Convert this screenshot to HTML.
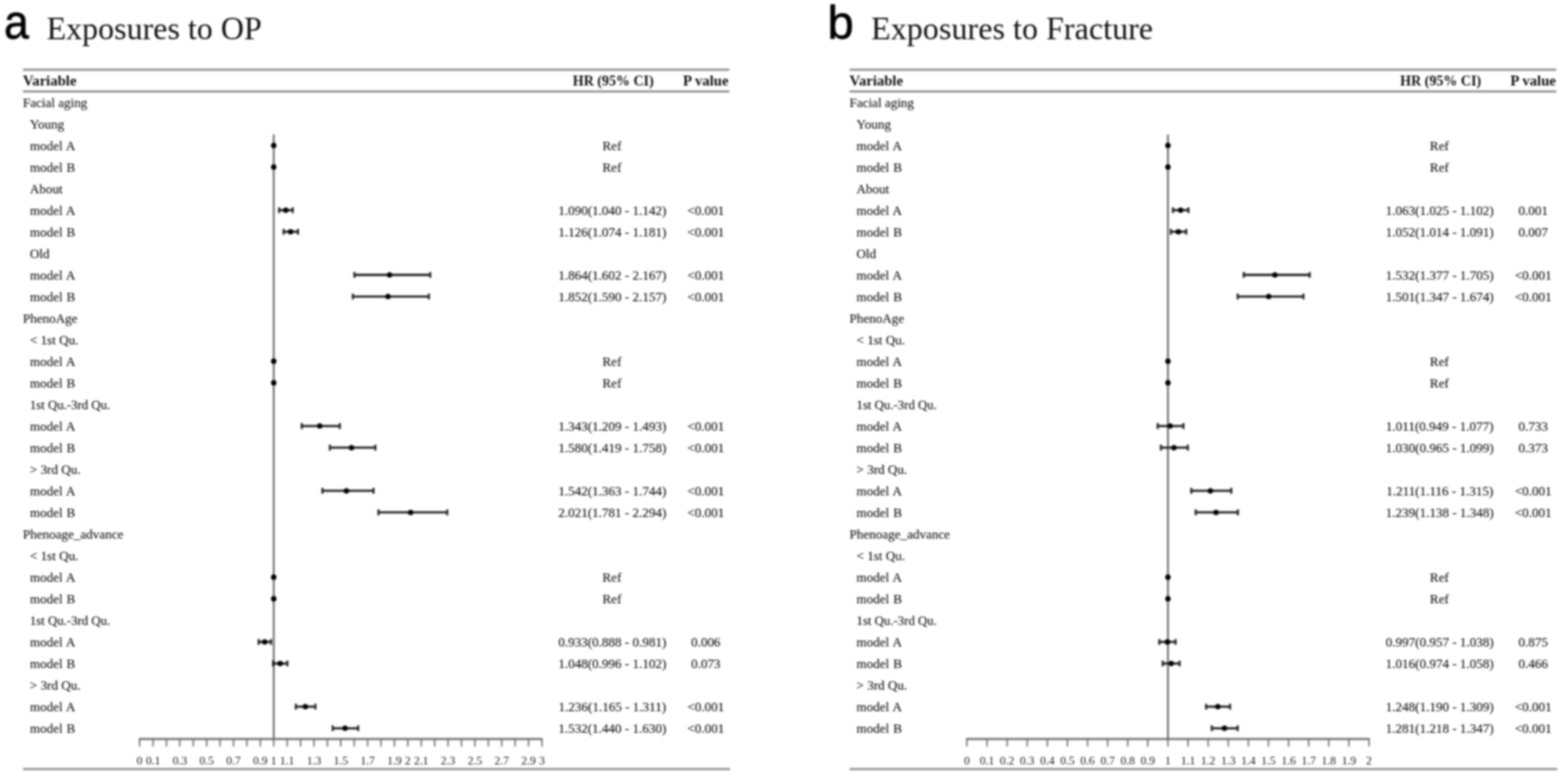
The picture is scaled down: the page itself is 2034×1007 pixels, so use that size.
<!DOCTYPE html>
<html lang="en"><head><meta charset="utf-8"><title>Forest plots: exposures to OP and fracture</title>
<style>
html,body{margin:0;padding:0;background:#fff;}
body{width:2034px;height:1007px;overflow:hidden;}
svg{display:block;}
.body{filter:url(#fb);}
.rules{filter:url(#fr);}
.txt{filter:url(#ft);}
.cis{filter:url(#fc);}
.cap{stroke:#1c1c1c;stroke-width:2.6;fill:none;}
.head{filter:url(#fh);}
text{font-family:"Liberation Serif",serif;fill:#111;stroke:#111;stroke-width:0.12;}
.b{font-size:16.3px;}
.h{font-size:19.1px;font-weight:bold;stroke:none;}
.t{font-size:15px;text-anchor:middle;stroke:none;fill:#161616;}
.m{text-anchor:middle;}
.ttl{font-size:41.5px;stroke:none;}
.let{font-family:"Liberation Sans",sans-serif;fill:#000;stroke:#000;stroke-width:0.8;}
.rule{stroke:#858585;stroke-width:2.5;fill:none;}
.ax{stroke:#666;stroke-width:2.3;fill:none;}
.tk{stroke:#6a6a6a;stroke-width:1.8;fill:none;}
.ref{stroke:#606060;stroke-width:2.2;fill:none;}
.ci{stroke:#1c1c1c;stroke-width:2.8;fill:none;}
.dot{fill:#000;}
</style></head><body>
<svg width="2034" height="1007" viewBox="0 0 2034 1007">
<defs>
<filter id="fr" filterUnits="userSpaceOnUse" x="0" y="0" width="2034" height="1007" color-interpolation-filters="sRGB">
<feGaussianBlur in="SourceGraphic" stdDeviation="1" result="a"/>
<feGaussianBlur in="SourceGraphic" stdDeviation="1.5" result="b"/>
<feComposite in="a" in2="b" operator="arithmetic" k1="0" k2="0.5" k3="0.5" k4="0"/>
</filter>
<filter id="fb" filterUnits="userSpaceOnUse" x="0" y="0" width="2034" height="1007" color-interpolation-filters="sRGB">
<feGaussianBlur in="SourceGraphic" stdDeviation="1" result="a"/>
<feGaussianBlur in="SourceGraphic" stdDeviation="1.5" result="b"/>
<feComposite in="a" in2="b" operator="arithmetic" k1="0" k2="0.5" k3="0.5" k4="0"/>
</filter>
<filter id="ft" filterUnits="userSpaceOnUse" x="0" y="0" width="2034" height="1007" color-interpolation-filters="sRGB">
<feGaussianBlur in="SourceGraphic" stdDeviation="1" result="a"/>
<feGaussianBlur in="SourceGraphic" stdDeviation="1.5" result="b"/>
<feComposite in="a" in2="b" operator="arithmetic" k1="0" k2="0.7" k3="0.3" k4="0"/>
</filter>
<filter id="fc" filterUnits="userSpaceOnUse" x="0" y="0" width="2034" height="1007" color-interpolation-filters="sRGB">
<feGaussianBlur in="SourceGraphic" stdDeviation="1" result="a"/>
<feGaussianBlur in="SourceGraphic" stdDeviation="1.5" result="b"/>
<feComposite in="a" in2="b" operator="arithmetic" k1="0" k2="0.5" k3="0.5" k4="0"/>
</filter>
<filter id="fh" filterUnits="userSpaceOnUse" x="0" y="0" width="2034" height="1007" color-interpolation-filters="sRGB">
<feGaussianBlur in="SourceGraphic" stdDeviation="1" result="a"/>
<feGaussianBlur in="SourceGraphic" stdDeviation="1.5" result="b"/>
<feComposite in="a" in2="b" operator="arithmetic" k1="0" k2="0.6" k3="0.4" k4="0"/>
</filter>
</defs>
<rect width="2034" height="1007" fill="#fff"/>
<g class="head">
<text class="let" transform="translate(5.3 50) scale(0.92 1)" font-size="62.8">a</text>
<text class="ttl" x="60.5" y="50.9">Exposures to OP</text>
</g>
<g class="rules">
<line class="rule" x1="29.8" x2="946" y1="90.5" y2="90.5"/>
<line class="rule" x1="29.8" x2="946" y1="118.7" y2="118.7"/>
<line class="rule" x1="29.8" x2="947.2" y1="997.9" y2="997.9"/>
</g>
<g class="body">
<line class="ref" x1="355.07" x2="355.07" y1="174.4" y2="959"/>
<path class="ax" d="M180.1 959 H704"/>
<path class="tk" d="M181.1 959 v9.7 M198.5 959 v9.7 M215.89 959 v9.7 M233.29 959 v9.7 M250.69 959 v9.7 M268.08 959 v9.7 M285.48 959 v9.7 M302.88 959 v9.7 M320.27 959 v9.7 M337.67 959 v9.7 M355.07 959 v9.7 M372.46 959 v9.7 M389.86 959 v9.7 M407.26 959 v9.7 M424.65 959 v9.7 M442.05 959 v9.7 M459.45 959 v9.7 M476.84 959 v9.7 M494.24 959 v9.7 M511.64 959 v9.7 M529.03 959 v9.7 M546.43 959 v9.7 M563.83 959 v9.7 M581.22 959 v9.7 M598.62 959 v9.7 M616.02 959 v9.7 M633.41 959 v9.7 M650.81 959 v9.7 M668.21 959 v9.7 M685.6 959 v9.7 M703 959 v9.7"/>
</g>
<g class="cis">
<circle class="dot" cx="355.07" cy="188.7" r="3.5"/>
<circle class="dot" cx="355.07" cy="216.71" r="3.5"/>
<path class="ci" d="M362.03 272.74 H379.77"/>
<path class="cap" d="M362.03 268.94 v7.6 M379.77 268.94 v7.6"/>
<circle class="dot" cx="370.72" cy="272.74" r="3.5"/>
<path class="ci" d="M367.94 300.75 H386.55"/>
<path class="cap" d="M367.94 296.95 v7.6 M386.55 296.95 v7.6"/>
<circle class="dot" cx="376.99" cy="300.75" r="3.5"/>
<path class="ci" d="M459.79 356.77 H558.09"/>
<path class="cap" d="M459.79 352.97 v7.6 M558.09 352.97 v7.6"/>
<circle class="dot" cx="505.37" cy="356.77" r="3.5"/>
<path class="ci" d="M457.71 384.79 H556.35"/>
<path class="cap" d="M457.71 380.99 v7.6 M556.35 380.99 v7.6"/>
<circle class="dot" cx="503.29" cy="384.79" r="3.5"/>
<circle class="dot" cx="355.07" cy="468.83" r="3.5"/>
<circle class="dot" cx="355.07" cy="496.84" r="3.5"/>
<path class="ci" d="M391.43 552.87 H440.83"/>
<path class="cap" d="M391.43 549.07 v7.6 M440.83 549.07 v7.6"/>
<circle class="dot" cx="414.74" cy="552.87" r="3.5"/>
<path class="ci" d="M427.96 580.88 H486.93"/>
<path class="cap" d="M427.96 577.08 v7.6 M486.93 577.08 v7.6"/>
<circle class="dot" cx="455.97" cy="580.88" r="3.5"/>
<path class="ci" d="M418.22 636.9 H484.5"/>
<path class="cap" d="M418.22 633.1 v7.6 M484.5 633.1 v7.6"/>
<circle class="dot" cx="449.36" cy="636.9" r="3.5"/>
<path class="ci" d="M490.93 664.92 H580.18"/>
<path class="cap" d="M490.93 661.12 v7.6 M580.18 661.12 v7.6"/>
<circle class="dot" cx="532.69" cy="664.92" r="3.5"/>
<circle class="dot" cx="355.07" cy="748.96" r="3.5"/>
<circle class="dot" cx="355.07" cy="776.97" r="3.5"/>
<path class="ci" d="M335.58 833 H351.76"/>
<path class="cap" d="M335.58 829.2 v7.6 M351.76 829.2 v7.6"/>
<circle class="dot" cx="343.41" cy="833" r="3.5"/>
<path class="ci" d="M354.37 861.01 H372.81"/>
<path class="cap" d="M354.37 857.21 v7.6 M372.81 857.21 v7.6"/>
<circle class="dot" cx="363.42" cy="861.01" r="3.5"/>
<path class="ci" d="M383.77 917.03 H409.17"/>
<path class="cap" d="M383.77 913.23 v7.6 M409.17 913.23 v7.6"/>
<circle class="dot" cx="396.12" cy="917.03" r="3.5"/>
<path class="ci" d="M431.61 945.05 H464.67"/>
<path class="cap" d="M431.61 941.25 v7.6 M464.67 941.25 v7.6"/>
<circle class="dot" cx="447.62" cy="945.05" r="3.5"/>
</g>
<g class="txt">
<text class="h" x="29.8" y="110.95">Variable</text>
<text class="h m" x="795.5" y="110.95" textLength="105" lengthAdjust="spacingAndGlyphs">HR (95% CI)</text>
<text class="h m" x="915.5" y="110.95">P value</text>
<text class="t" x="181.1" y="991.7">0</text>
<text class="t" x="198.5" y="991.7">0.1</text>
<text class="t" x="233.29" y="991.7">0.3</text>
<text class="t" x="268.08" y="991.7">0.5</text>
<text class="t" x="302.88" y="991.7">0.7</text>
<text class="t" x="337.67" y="991.7">0.9</text>
<text class="t" x="355.07" y="991.7">1</text>
<text class="t" x="372.46" y="991.7">1.1</text>
<text class="t" x="407.26" y="991.7">1.3</text>
<text class="t" x="442.05" y="991.7">1.5</text>
<text class="t" x="476.84" y="991.7">1.7</text>
<text class="t" x="511.64" y="991.7">1.9</text>
<text class="t" x="529.03" y="991.7">2</text>
<text class="t" x="546.43" y="991.7">2.1</text>
<text class="t" x="581.22" y="991.7">2.3</text>
<text class="t" x="616.02" y="991.7">2.5</text>
<text class="t" x="650.81" y="991.7">2.7</text>
<text class="t" x="685.6" y="991.7">2.9</text>
<text class="t" x="703" y="991.7">3</text>
<text class="b" transform="translate(29.8 138.52) scale(1.043 1)">Facial aging</text>
<text class="b" transform="translate(38.8 166.53) scale(1.043 1)">Young</text>
<text class="b" word-spacing="0.8" transform="translate(38.8 194.55) scale(1.043 1)">model A</text>
<text class="b m" transform="translate(793.8 194.85) scale(1.043 1)">Ref</text>
<text class="b" word-spacing="0.8" transform="translate(38.8 222.56) scale(1.043 1)">model B</text>
<text class="b m" transform="translate(793.8 222.86) scale(1.043 1)">Ref</text>
<text class="b" transform="translate(38.8 250.57) scale(1.043 1)">About</text>
<text class="b" word-spacing="0.8" transform="translate(38.8 278.59) scale(1.043 1)">model A</text>
<text class="b m" transform="translate(794.3 278.59) scale(1.043 1)">1.090(1.040 - 1.142)</text>
<text class="b m" transform="translate(915.5 278.59) scale(1.043 1)">&lt;0.001</text>
<text class="b" word-spacing="0.8" transform="translate(38.8 306.6) scale(1.043 1)">model B</text>
<text class="b m" transform="translate(794.3 306.6) scale(1.043 1)">1.126(1.074 - 1.181)</text>
<text class="b m" transform="translate(915.5 306.6) scale(1.043 1)">&lt;0.001</text>
<text class="b" transform="translate(38.8 334.61) scale(1.043 1)">Old</text>
<text class="b" word-spacing="0.8" transform="translate(38.8 362.62) scale(1.043 1)">model A</text>
<text class="b m" transform="translate(794.3 362.62) scale(1.043 1)">1.864(1.602 - 2.167)</text>
<text class="b m" transform="translate(915.5 362.62) scale(1.043 1)">&lt;0.001</text>
<text class="b" word-spacing="0.8" transform="translate(38.8 390.64) scale(1.043 1)">model B</text>
<text class="b m" transform="translate(794.3 390.64) scale(1.043 1)">1.852(1.590 - 2.157)</text>
<text class="b m" transform="translate(915.5 390.64) scale(1.043 1)">&lt;0.001</text>
<text class="b" transform="translate(29.8 418.65) scale(1.043 1)">PhenoAge</text>
<text class="b" transform="translate(38.8 446.66) scale(1.043 1)">&lt; 1st Qu.</text>
<text class="b" word-spacing="0.8" transform="translate(38.8 474.68) scale(1.043 1)">model A</text>
<text class="b m" transform="translate(793.8 474.98) scale(1.043 1)">Ref</text>
<text class="b" word-spacing="0.8" transform="translate(38.8 502.69) scale(1.043 1)">model B</text>
<text class="b m" transform="translate(793.8 502.99) scale(1.043 1)">Ref</text>
<text class="b" transform="translate(38.8 530.7) scale(1.019 1)">1st Qu.-3rd Qu.</text>
<text class="b" word-spacing="0.8" transform="translate(38.8 558.72) scale(1.043 1)">model A</text>
<text class="b m" transform="translate(794.3 558.72) scale(1.043 1)">1.343(1.209 - 1.493)</text>
<text class="b m" transform="translate(915.5 558.72) scale(1.043 1)">&lt;0.001</text>
<text class="b" word-spacing="0.8" transform="translate(38.8 586.73) scale(1.043 1)">model B</text>
<text class="b m" transform="translate(794.3 586.73) scale(1.043 1)">1.580(1.419 - 1.758)</text>
<text class="b m" transform="translate(915.5 586.73) scale(1.043 1)">&lt;0.001</text>
<text class="b" transform="translate(38.8 614.74) scale(1.043 1)">&gt; 3rd Qu.</text>
<text class="b" word-spacing="0.8" transform="translate(38.8 642.75) scale(1.043 1)">model A</text>
<text class="b m" transform="translate(794.3 642.75) scale(1.043 1)">1.542(1.363 - 1.744)</text>
<text class="b m" transform="translate(915.5 642.75) scale(1.043 1)">&lt;0.001</text>
<text class="b" word-spacing="0.8" transform="translate(38.8 670.77) scale(1.043 1)">model B</text>
<text class="b m" transform="translate(794.3 670.77) scale(1.043 1)">2.021(1.781 - 2.294)</text>
<text class="b m" transform="translate(915.5 670.77) scale(1.043 1)">&lt;0.001</text>
<text class="b" transform="translate(29.8 698.78) scale(1.043 1)">Phenoage_advance</text>
<text class="b" transform="translate(38.8 726.79) scale(1.043 1)">&lt; 1st Qu.</text>
<text class="b" word-spacing="0.8" transform="translate(38.8 754.81) scale(1.043 1)">model A</text>
<text class="b m" transform="translate(793.8 755.11) scale(1.043 1)">Ref</text>
<text class="b" word-spacing="0.8" transform="translate(38.8 782.82) scale(1.043 1)">model B</text>
<text class="b m" transform="translate(793.8 783.12) scale(1.043 1)">Ref</text>
<text class="b" transform="translate(38.8 810.83) scale(1.019 1)">1st Qu.-3rd Qu.</text>
<text class="b" word-spacing="0.8" transform="translate(38.8 838.85) scale(1.043 1)">model A</text>
<text class="b m" transform="translate(794.3 838.85) scale(1.043 1)">0.933(0.888 - 0.981)</text>
<text class="b m" transform="translate(915.5 838.85) scale(1.043 1)">0.006</text>
<text class="b" word-spacing="0.8" transform="translate(38.8 866.86) scale(1.043 1)">model B</text>
<text class="b m" transform="translate(794.3 866.86) scale(1.043 1)">1.048(0.996 - 1.102)</text>
<text class="b m" transform="translate(915.5 866.86) scale(1.043 1)">0.073</text>
<text class="b" transform="translate(38.8 894.87) scale(1.043 1)">&gt; 3rd Qu.</text>
<text class="b" word-spacing="0.8" transform="translate(38.8 922.88) scale(1.043 1)">model A</text>
<text class="b m" transform="translate(794.3 922.88) scale(1.043 1)">1.236(1.165 - 1.311)</text>
<text class="b m" transform="translate(915.5 922.88) scale(1.043 1)">&lt;0.001</text>
<text class="b" word-spacing="0.8" transform="translate(38.8 950.9) scale(1.043 1)">model B</text>
<text class="b m" transform="translate(794.3 950.9) scale(1.043 1)">1.532(1.440 - 1.630)</text>
<text class="b m" transform="translate(915.5 950.9) scale(1.043 1)">&lt;0.001</text>
</g>
<g class="head">
<text class="let" transform="translate(1073.4 50) scale(1.0 1)" font-size="61">b</text>
<text class="ttl" x="1130" y="50.9" letter-spacing="0.08">Exposures to Fracture</text>
</g>
<g class="rules">
<line class="rule" x1="1102.1" x2="2018.8" y1="90.5" y2="90.5"/>
<line class="rule" x1="1102.1" x2="2018.8" y1="118.7" y2="118.7"/>
<line class="rule" x1="1102.1" x2="2020" y1="997.9" y2="997.9"/>
</g>
<g class="body">
<line class="ref" x1="1515.05" x2="1515.05" y1="174.4" y2="959"/>
<path class="ax" d="M1253.25 959 H1776.85"/>
<path class="tk" d="M1254.25 959 v9.7 M1280.33 959 v9.7 M1306.41 959 v9.7 M1332.49 959 v9.7 M1358.57 959 v9.7 M1384.65 959 v9.7 M1410.73 959 v9.7 M1436.81 959 v9.7 M1462.89 959 v9.7 M1488.97 959 v9.7 M1515.05 959 v9.7 M1541.13 959 v9.7 M1567.21 959 v9.7 M1593.29 959 v9.7 M1619.37 959 v9.7 M1645.45 959 v9.7 M1671.53 959 v9.7 M1697.61 959 v9.7 M1723.69 959 v9.7 M1749.77 959 v9.7 M1775.85 959 v9.7"/>
</g>
<g class="cis">
<circle class="dot" cx="1515.05" cy="188.7" r="3.5"/>
<circle class="dot" cx="1515.05" cy="216.71" r="3.5"/>
<path class="ci" d="M1521.57 272.74 H1541.65"/>
<path class="cap" d="M1521.57 268.94 v7.6 M1541.65 268.94 v7.6"/>
<circle class="dot" cx="1531.48" cy="272.74" r="3.5"/>
<path class="ci" d="M1518.7 300.75 H1538.78"/>
<path class="cap" d="M1518.7 296.95 v7.6 M1538.78 296.95 v7.6"/>
<circle class="dot" cx="1528.61" cy="300.75" r="3.5"/>
<path class="ci" d="M1613.37 356.77 H1698.91"/>
<path class="cap" d="M1613.37 352.97 v7.6 M1698.91 352.97 v7.6"/>
<circle class="dot" cx="1653.8" cy="356.77" r="3.5"/>
<path class="ci" d="M1605.55 384.79 H1690.83"/>
<path class="cap" d="M1605.55 380.99 v7.6 M1690.83 380.99 v7.6"/>
<circle class="dot" cx="1645.71" cy="384.79" r="3.5"/>
<circle class="dot" cx="1515.05" cy="468.83" r="3.5"/>
<circle class="dot" cx="1515.05" cy="496.84" r="3.5"/>
<path class="ci" d="M1501.75 552.87 H1535.13"/>
<path class="cap" d="M1501.75 549.07 v7.6 M1535.13 549.07 v7.6"/>
<circle class="dot" cx="1517.92" cy="552.87" r="3.5"/>
<path class="ci" d="M1505.92 580.88 H1540.87"/>
<path class="cap" d="M1505.92 577.08 v7.6 M1540.87 577.08 v7.6"/>
<circle class="dot" cx="1522.87" cy="580.88" r="3.5"/>
<path class="ci" d="M1545.3 636.9 H1597.2"/>
<path class="cap" d="M1545.3 633.1 v7.6 M1597.2 633.1 v7.6"/>
<circle class="dot" cx="1570.08" cy="636.9" r="3.5"/>
<path class="ci" d="M1551.04 664.92 H1605.81"/>
<path class="cap" d="M1551.04 661.12 v7.6 M1605.81 661.12 v7.6"/>
<circle class="dot" cx="1577.38" cy="664.92" r="3.5"/>
<circle class="dot" cx="1515.05" cy="748.96" r="3.5"/>
<circle class="dot" cx="1515.05" cy="776.97" r="3.5"/>
<path class="ci" d="M1503.84 833 H1524.96"/>
<path class="cap" d="M1503.84 829.2 v7.6 M1524.96 829.2 v7.6"/>
<circle class="dot" cx="1514.27" cy="833" r="3.5"/>
<path class="ci" d="M1508.27 861.01 H1530.18"/>
<path class="cap" d="M1508.27 857.21 v7.6 M1530.18 857.21 v7.6"/>
<circle class="dot" cx="1519.22" cy="861.01" r="3.5"/>
<path class="ci" d="M1564.6 917.03 H1595.64"/>
<path class="cap" d="M1564.6 913.23 v7.6 M1595.64 913.23 v7.6"/>
<circle class="dot" cx="1579.73" cy="917.03" r="3.5"/>
<path class="ci" d="M1571.9 945.05 H1605.55"/>
<path class="cap" d="M1571.9 941.25 v7.6 M1605.55 941.25 v7.6"/>
<circle class="dot" cx="1588.33" cy="945.05" r="3.5"/>
</g>
<g class="txt">
<text class="h" x="1102.1" y="110.95">Variable</text>
<text class="h m" x="1868.8" y="110.95" textLength="105" lengthAdjust="spacingAndGlyphs">HR (95% CI)</text>
<text class="h m" x="1988.8" y="110.95">P value</text>
<text class="t" x="1254.25" y="991.7">0</text>
<text class="t" x="1280.33" y="991.7">0.1</text>
<text class="t" x="1306.41" y="991.7">0.2</text>
<text class="t" x="1332.49" y="991.7">0.3</text>
<text class="t" x="1358.57" y="991.7">0.4</text>
<text class="t" x="1384.65" y="991.7">0.5</text>
<text class="t" x="1410.73" y="991.7">0.6</text>
<text class="t" x="1436.81" y="991.7">0.7</text>
<text class="t" x="1462.89" y="991.7">0.8</text>
<text class="t" x="1488.97" y="991.7">0.9</text>
<text class="t" x="1515.05" y="991.7">1</text>
<text class="t" x="1541.13" y="991.7">1.1</text>
<text class="t" x="1567.21" y="991.7">1.2</text>
<text class="t" x="1593.29" y="991.7">1.3</text>
<text class="t" x="1619.37" y="991.7">1.4</text>
<text class="t" x="1645.45" y="991.7">1.5</text>
<text class="t" x="1671.53" y="991.7">1.6</text>
<text class="t" x="1697.61" y="991.7">1.7</text>
<text class="t" x="1723.69" y="991.7">1.8</text>
<text class="t" x="1749.77" y="991.7">1.9</text>
<text class="t" x="1775.85" y="991.7">2</text>
<text class="b" transform="translate(1102.1 138.52) scale(1.043 1)">Facial aging</text>
<text class="b" transform="translate(1111.1 166.53) scale(1.043 1)">Young</text>
<text class="b" word-spacing="0.8" transform="translate(1111.1 194.55) scale(1.043 1)">model A</text>
<text class="b m" transform="translate(1867.1 194.85) scale(1.043 1)">Ref</text>
<text class="b" word-spacing="0.8" transform="translate(1111.1 222.56) scale(1.043 1)">model B</text>
<text class="b m" transform="translate(1867.1 222.86) scale(1.043 1)">Ref</text>
<text class="b" transform="translate(1111.1 250.57) scale(1.043 1)">About</text>
<text class="b" word-spacing="0.8" transform="translate(1111.1 278.59) scale(1.043 1)">model A</text>
<text class="b m" transform="translate(1867.6 278.59) scale(1.043 1)">1.063(1.025 - 1.102)</text>
<text class="b m" transform="translate(1988.8 278.59) scale(1.043 1)">0.001</text>
<text class="b" word-spacing="0.8" transform="translate(1111.1 306.6) scale(1.043 1)">model B</text>
<text class="b m" transform="translate(1867.6 306.6) scale(1.043 1)">1.052(1.014 - 1.091)</text>
<text class="b m" transform="translate(1988.8 306.6) scale(1.043 1)">0.007</text>
<text class="b" transform="translate(1111.1 334.61) scale(1.043 1)">Old</text>
<text class="b" word-spacing="0.8" transform="translate(1111.1 362.62) scale(1.043 1)">model A</text>
<text class="b m" transform="translate(1867.6 362.62) scale(1.043 1)">1.532(1.377 - 1.705)</text>
<text class="b m" transform="translate(1988.8 362.62) scale(1.043 1)">&lt;0.001</text>
<text class="b" word-spacing="0.8" transform="translate(1111.1 390.64) scale(1.043 1)">model B</text>
<text class="b m" transform="translate(1867.6 390.64) scale(1.043 1)">1.501(1.347 - 1.674)</text>
<text class="b m" transform="translate(1988.8 390.64) scale(1.043 1)">&lt;0.001</text>
<text class="b" transform="translate(1102.1 418.65) scale(1.043 1)">PhenoAge</text>
<text class="b" transform="translate(1111.1 446.66) scale(1.043 1)">&lt; 1st Qu.</text>
<text class="b" word-spacing="0.8" transform="translate(1111.1 474.68) scale(1.043 1)">model A</text>
<text class="b m" transform="translate(1867.1 474.98) scale(1.043 1)">Ref</text>
<text class="b" word-spacing="0.8" transform="translate(1111.1 502.69) scale(1.043 1)">model B</text>
<text class="b m" transform="translate(1867.1 502.99) scale(1.043 1)">Ref</text>
<text class="b" transform="translate(1111.1 530.7) scale(1.019 1)">1st Qu.-3rd Qu.</text>
<text class="b" word-spacing="0.8" transform="translate(1111.1 558.72) scale(1.043 1)">model A</text>
<text class="b m" transform="translate(1867.6 558.72) scale(1.043 1)">1.011(0.949 - 1.077)</text>
<text class="b m" transform="translate(1988.8 558.72) scale(1.043 1)">0.733</text>
<text class="b" word-spacing="0.8" transform="translate(1111.1 586.73) scale(1.043 1)">model B</text>
<text class="b m" transform="translate(1867.6 586.73) scale(1.043 1)">1.030(0.965 - 1.099)</text>
<text class="b m" transform="translate(1988.8 586.73) scale(1.043 1)">0.373</text>
<text class="b" transform="translate(1111.1 614.74) scale(1.043 1)">&gt; 3rd Qu.</text>
<text class="b" word-spacing="0.8" transform="translate(1111.1 642.75) scale(1.043 1)">model A</text>
<text class="b m" transform="translate(1867.6 642.75) scale(1.043 1)">1.211(1.116 - 1.315)</text>
<text class="b m" transform="translate(1988.8 642.75) scale(1.043 1)">&lt;0.001</text>
<text class="b" word-spacing="0.8" transform="translate(1111.1 670.77) scale(1.043 1)">model B</text>
<text class="b m" transform="translate(1867.6 670.77) scale(1.043 1)">1.239(1.138 - 1.348)</text>
<text class="b m" transform="translate(1988.8 670.77) scale(1.043 1)">&lt;0.001</text>
<text class="b" transform="translate(1102.1 698.78) scale(1.043 1)">Phenoage_advance</text>
<text class="b" transform="translate(1111.1 726.79) scale(1.043 1)">&lt; 1st Qu.</text>
<text class="b" word-spacing="0.8" transform="translate(1111.1 754.81) scale(1.043 1)">model A</text>
<text class="b m" transform="translate(1867.1 755.11) scale(1.043 1)">Ref</text>
<text class="b" word-spacing="0.8" transform="translate(1111.1 782.82) scale(1.043 1)">model B</text>
<text class="b m" transform="translate(1867.1 783.12) scale(1.043 1)">Ref</text>
<text class="b" transform="translate(1111.1 810.83) scale(1.019 1)">1st Qu.-3rd Qu.</text>
<text class="b" word-spacing="0.8" transform="translate(1111.1 838.85) scale(1.043 1)">model A</text>
<text class="b m" transform="translate(1867.6 838.85) scale(1.043 1)">0.997(0.957 - 1.038)</text>
<text class="b m" transform="translate(1988.8 838.85) scale(1.043 1)">0.875</text>
<text class="b" word-spacing="0.8" transform="translate(1111.1 866.86) scale(1.043 1)">model B</text>
<text class="b m" transform="translate(1867.6 866.86) scale(1.043 1)">1.016(0.974 - 1.058)</text>
<text class="b m" transform="translate(1988.8 866.86) scale(1.043 1)">0.466</text>
<text class="b" transform="translate(1111.1 894.87) scale(1.043 1)">&gt; 3rd Qu.</text>
<text class="b" word-spacing="0.8" transform="translate(1111.1 922.88) scale(1.043 1)">model A</text>
<text class="b m" transform="translate(1867.6 922.88) scale(1.043 1)">1.248(1.190 - 1.309)</text>
<text class="b m" transform="translate(1988.8 922.88) scale(1.043 1)">&lt;0.001</text>
<text class="b" word-spacing="0.8" transform="translate(1111.1 950.9) scale(1.043 1)">model B</text>
<text class="b m" transform="translate(1867.6 950.9) scale(1.043 1)">1.281(1.218 - 1.347)</text>
<text class="b m" transform="translate(1988.8 950.9) scale(1.043 1)">&lt;0.001</text>
</g>
</svg>
</body></html>
